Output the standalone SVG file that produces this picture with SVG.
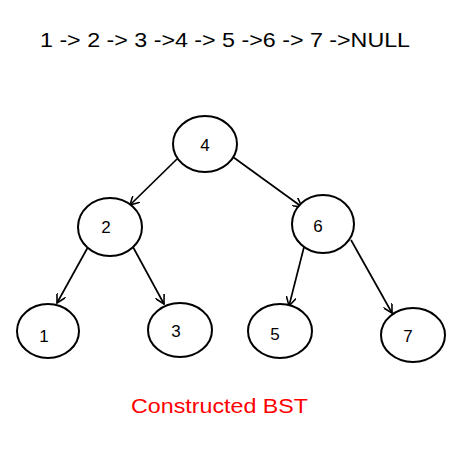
<svg xmlns="http://www.w3.org/2000/svg" width="450" height="450" viewBox="0 0 450 450">
<style>
.node ellipse{fill:#fff;stroke:#000;stroke-width:2}
.node text{font-family:"Liberation Sans",Arial,sans-serif;font-size:17px;fill:#000;text-anchor:middle}
.edge{stroke:#000;stroke-width:1.7;fill:none;marker-end:url(#arr)}
.title{font-family:"Liberation Sans",Arial,sans-serif;font-size:21px;fill:#000}
</style>
<defs>
<marker id="arr" viewBox="0 0 10 10" refX="9" refY="5" markerWidth="10" markerHeight="10" markerUnits="userSpaceOnUse" orient="auto">
<path d="M0,0 L9,5 L0,10" fill="none" stroke="#000" stroke-width="1.6"/>
</marker>
</defs>
<rect width="450" height="450" fill="#fff"/>
<text class="title" x="40" y="47" textLength="370" lengthAdjust="spacingAndGlyphs">1 -&gt; 2 -&gt; 3 -&gt;4 -&gt; 5 -&gt;6 -&gt; 7 -&gt;NULL</text>
<g id="connectors">
<line class="edge" x1="177" y1="159" x2="130" y2="205"/>
<line class="edge" x1="233" y1="157" x2="302" y2="207"/>
<line class="edge" x1="88" y1="247" x2="57" y2="303"/>
<line class="edge" x1="133" y1="247" x2="164" y2="304"/>
<line class="edge" x1="304" y1="247" x2="289" y2="306"/>
<line class="edge" x1="351" y1="240" x2="392" y2="313"/>
</g>
<g id="n4" class="node"><ellipse cx="205" cy="144" rx="32" ry="28"/><text x="205" y="151">4</text></g>
<g id="n2" class="node"><ellipse cx="110" cy="227" rx="32" ry="29"/><text x="106" y="233">2</text></g>
<g id="n6" class="node"><ellipse cx="323" cy="224" rx="31" ry="29"/><text x="318" y="232">6</text></g>
<g id="n1" class="node"><ellipse cx="48" cy="331" rx="31" ry="27"/><text x="44" y="342">1</text></g>
<g id="n3" class="node"><ellipse cx="180" cy="330" rx="32" ry="27"/><text x="176" y="337">3</text></g>
<g id="n5" class="node"><ellipse cx="280" cy="331" rx="32" ry="27"/><text x="275" y="340">5</text></g>
<g id="n7" class="node"><ellipse cx="413" cy="335" rx="32" ry="27"/><text x="408" y="342">7</text></g>
<text x="131" y="413" textLength="177" lengthAdjust="spacingAndGlyphs" style="font-family:'Liberation Sans',Arial,sans-serif;font-size:21px;fill:#ff0000">Constructed BST</text>
</svg>
